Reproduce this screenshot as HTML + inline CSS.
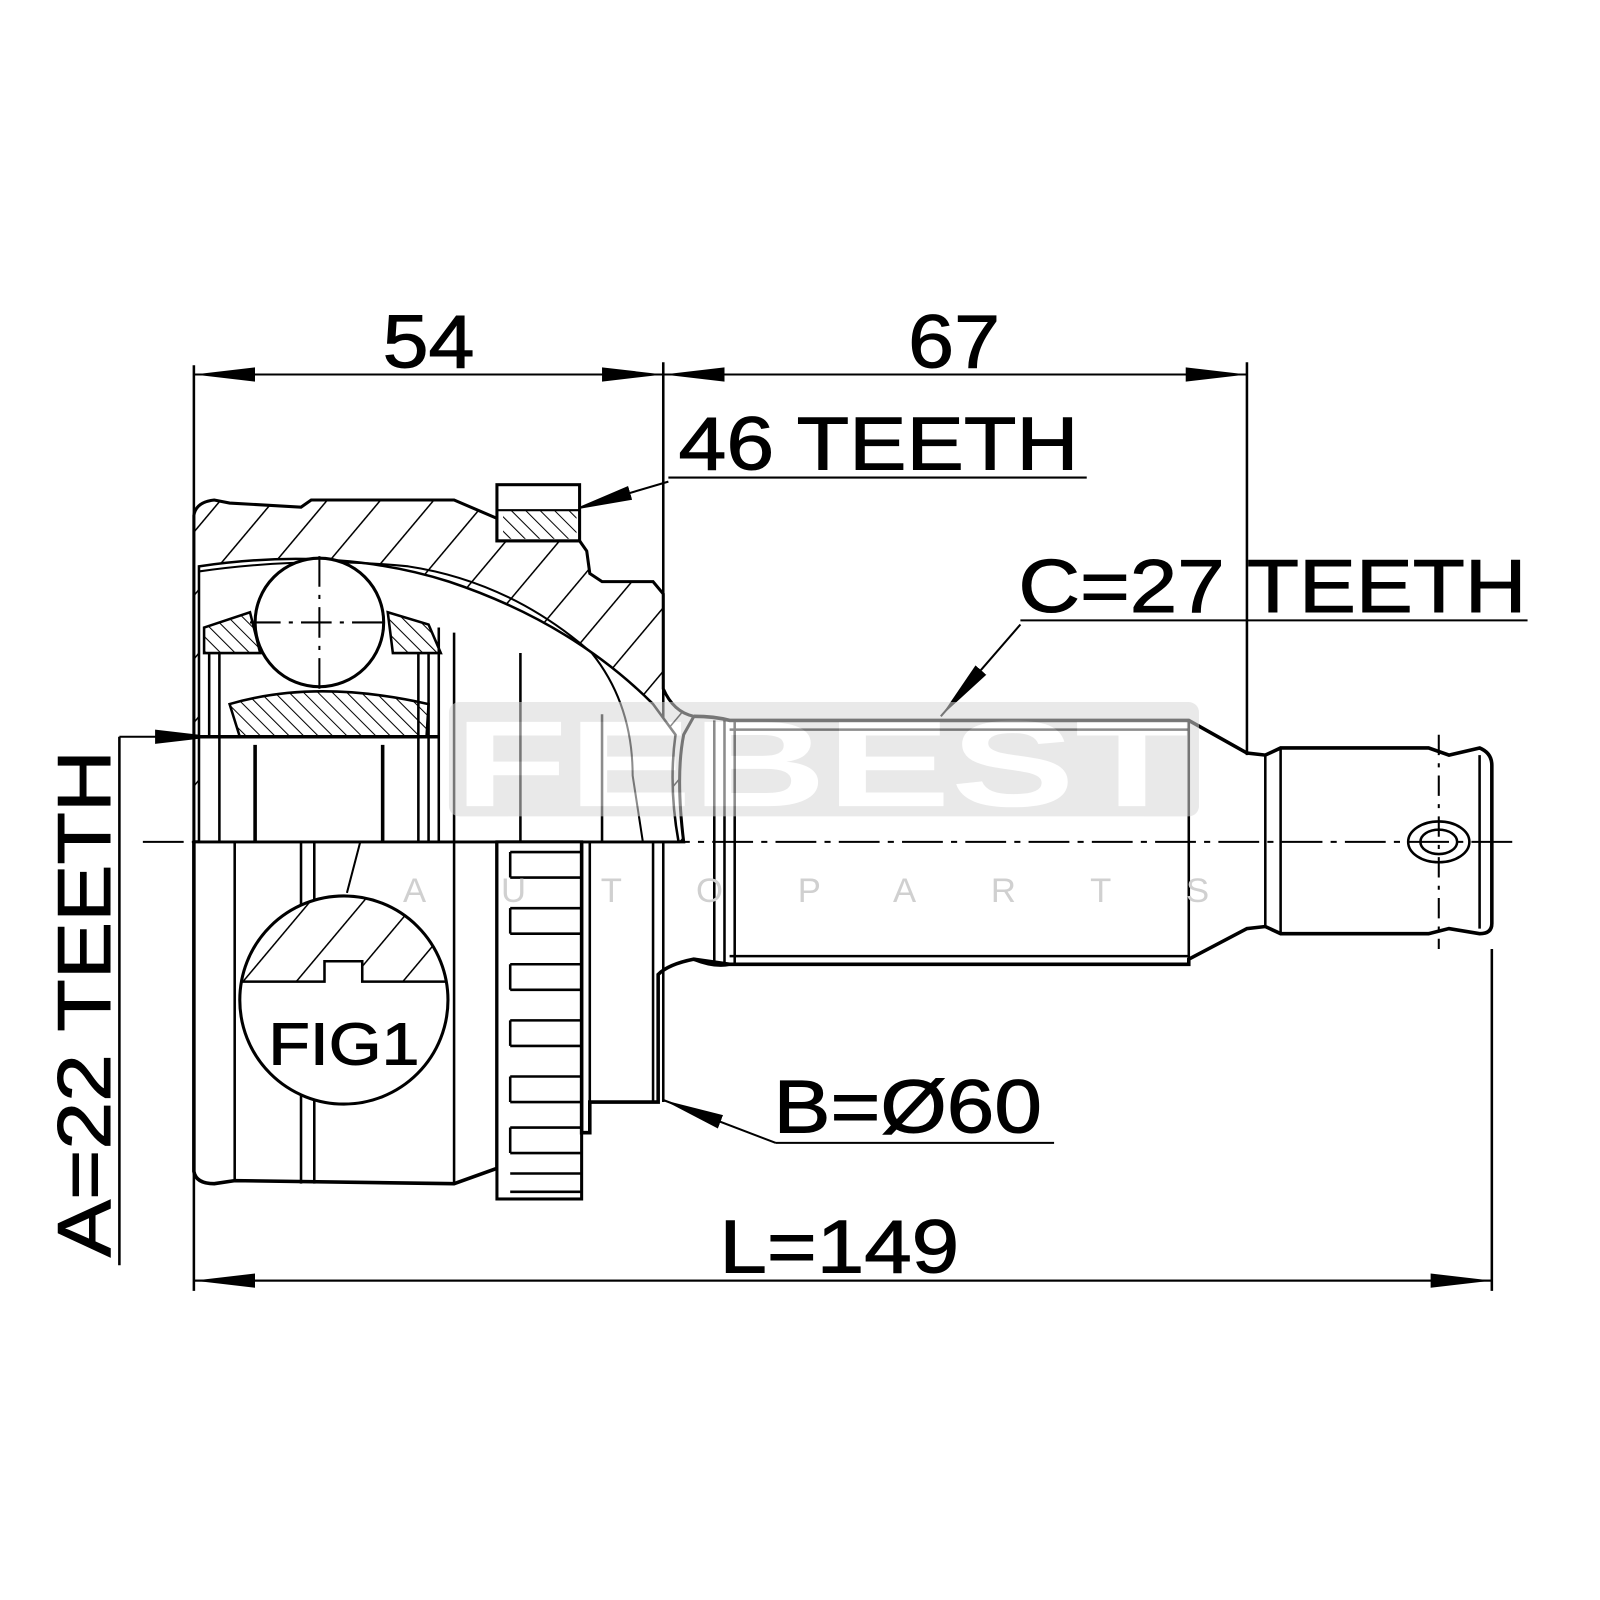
<!DOCTYPE html>
<html><head><meta charset="utf-8"><style>html,body{margin:0;padding:0;background:#fff}svg{display:block}</style></head>
<body>
<svg width="1600" height="1600" viewBox="0 0 1568 1568" xmlns="http://www.w3.org/2000/svg" font-family="Liberation Sans, Arial, sans-serif">
<defs>
<pattern id="h" width="40" height="40" patternUnits="userSpaceOnUse" patternTransform="rotate(40)"><line x1="0" y1="0" x2="0" y2="40" stroke="#000" stroke-width="3"/></pattern>
<pattern id="hf" width="10" height="10" patternUnits="userSpaceOnUse" patternTransform="rotate(-45)"><line x1="0" y1="0" x2="0" y2="10" stroke="#000" stroke-width="2"/></pattern>
<marker id="a" viewBox="0 0 60 20" refX="60" refY="10" markerWidth="60" markerHeight="20" markerUnits="userSpaceOnUse" orient="auto"><path d="M0,3 L60,10 L0,17 Z" fill="#000"/></marker>
</defs>

<g fill="none" stroke="#000" stroke-width="3">
<line x1="190" y1="358" x2="190" y2="1265" stroke-width="2.5"/>
<line x1="650" y1="355" x2="650" y2="1080" stroke-width="2.5"/>
<line x1="1222" y1="355" x2="1222" y2="740" stroke-width="2.5"/>
<line x1="1462" y1="930" x2="1462" y2="1265" stroke-width="2.5"/>
<line x1="117" y1="722" x2="117" y2="1240" stroke-width="2.5"/>
<line x1="190" y1="367" x2="650" y2="367" stroke-width="2" marker-end="url(#a)"/>
<line x1="650" y1="367" x2="190" y2="367" stroke-width="2" marker-end="url(#a)"/>
<line x1="650" y1="367" x2="1222" y2="367" stroke-width="2" marker-end="url(#a)"/>
<line x1="1222" y1="367" x2="650" y2="367" stroke-width="2" marker-end="url(#a)"/>
<line x1="190" y1="1255" x2="1462" y2="1255" stroke-width="2" marker-end="url(#a)"/>
<line x1="1462" y1="1255" x2="190" y2="1255" stroke-width="2" marker-end="url(#a)"/>
<line x1="117" y1="722" x2="212" y2="722" stroke-width="2" marker-end="url(#a)"/>
<line x1="655" y1="468" x2="1065" y2="468" stroke-width="2"/>
<line x1="655" y1="472" x2="560" y2="500" stroke-width="2" marker-end="url(#a)"/>
<line x1="1000" y1="608" x2="1497" y2="608" stroke-width="2"/>
<line x1="1000" y1="612" x2="922" y2="702" stroke-width="2" marker-end="url(#a)"/>
<line x1="760" y1="1120" x2="1033" y2="1120" stroke-width="2"/>
<line x1="760" y1="1120" x2="650" y2="1078" stroke-width="2" marker-end="url(#a)"/>
<line x1="340" y1="875" x2="380" y2="722" stroke-width="2" marker-end="url(#a)"/>

<path d="M190,825 L190,505 Q192,492 210,490 L225,493 L295,497 L305,490 L445,490 L487,508 L487,530 L568,530 L575,540 L578,562 L590,570 L640,570 L650,582 L650,675 Q660,698 680,702 L670,720 Q662,760 670,825 Z" fill="url(#h)"/>
<path d="M195,555 Q330,535 440,570 Q560,610 640,690 L662,720 Q655,770 665,825 L195,825 Z" fill="#fff" stroke="#000" stroke-width="2.5"/>
<path d="M195,560 Q300,545 400,555 Q500,570 580,640 Q620,690 620,760 L630,825" fill="none" stroke-width="2"/>
<path d="M200,615 L245,600 L255,640 L200,640 Z" fill="url(#hf)" stroke-width="2.5"/>
<path d="M380,600 L420,612 L432,640 L385,640 Z" fill="url(#hf)" stroke-width="2.5"/>
<path d="M225,690 Q310,665 420,690 L418,722 L235,722 Z" fill="url(#hf)" stroke-width="2.5"/>
<path d="M205,640 L205,722 M215,640 L215,825 M410,640 L410,825 M420,640 L420,825 M430,615 L430,825 M445,620 L445,825 M510,640 L510,825 M590,700 L590,825" stroke-width="2.5"/>
<path d="M195,722 L430,722 M250,730 L250,825 M375,730 L375,825" stroke-width="3.5"/>
<circle cx="313" cy="610" r="63" fill="#fff"/>
<path d="M313,545 L313,680 M245,610 L380,610" stroke-width="2" stroke-dasharray="30,8,4,8"/>
<rect x="487" y="475" width="81" height="55" fill="#fff"/>
<rect x="493" y="500" width="72" height="28" fill="url(#hf)" stroke="none"/>
<line x1="487" y1="500" x2="568" y2="500" stroke-width="2"/>
<path d="M190,825 L190,1148 Q192,1160 210,1160 L230,1157 L445,1160 L487,1145 L487,825" stroke-width="3.5"/>
<path d="M230,825 L230,1157 M295,825 L295,1160 M308,825 L308,1160 M445,825 L445,1160" stroke-width="2.5"/>
<rect x="487" y="825" width="83" height="350" fill="#fff" stroke-width="3"/>
<g stroke-width="2.5">
<path d="M500,835 H570 M500,860 H570 M500,835 V860"/>
<path d="M500,890 H570 M500,915 H570 M500,890 V915"/>
<path d="M500,945 H570 M500,970 H570 M500,945 V970"/>
<path d="M500,1000 H570 M500,1025 H570 M500,1000 V1025"/>
<path d="M500,1055 H570 M500,1080 H570 M500,1055 V1080"/>
<path d="M500,1105 H570 M500,1130 H570 M500,1105 V1130"/>
<path d="M500,1150 H570 M500,1168 H570"/>
</g>
<path d="M570,825 L570,1110 L578,1110 L578,1080 L645,1080 L645,955 Q655,945 680,940 L715,945" stroke-width="3.5"/>
<path d="M578,825 L578,1080 M640,825 L640,1080" stroke-width="2.5"/>
<circle cx="337" cy="980" r="102" fill="#fff"/>
<clipPath id="c"><circle cx="337" cy="980" r="102"/></clipPath>
<path clip-path="url(#c)" d="M230,962 L318,962 L318,942 L355,942 L355,962 L445,962 L445,870 L230,870 Z" fill="url(#h)" stroke-width="2.5"/>
<path d="M680,702 Q700,702 715,706 L1165,706 L1222,738 L1240,740 L1255,733 L1400,733 L1420,740 L1450,733 Q1462,738 1462,750 L1462,905 Q1462,915 1450,915 L1420,910 L1400,915 L1255,915 L1240,908 L1222,910 L1165,940 L1165,945 L715,945 Q700,948 680,940" stroke-width="3.5"/>
<path d="M715,715 L1165,715 M715,937 L1165,937 M1165,706 L1165,945 M700,706 L700,945 M710,706 L710,945 M720,706 L720,945 M1240,740 L1240,908 M1255,733 L1255,915 M1450,740 L1450,910" stroke-width="2.5"/>
<ellipse cx="1410" cy="825" rx="30" ry="20" stroke-width="2.5"/>
<ellipse cx="1410" cy="825" rx="18" ry="12" stroke-width="2.5"/>
<line x1="1410" y1="720" x2="1410" y2="930" stroke-width="2" stroke-dasharray="20,8,4,8"/>
<line x1="140" y1="825" x2="1490" y2="825" stroke-width="2" stroke-dasharray="40,8,6,8"/>
</g>

<!-- watermark overlay -->
<g opacity="0.55">
<rect x="440" y="688" width="735" height="112" rx="10" fill="#d8d8d8"/>
<text x="445" y="790" font-size="120" font-weight="bold" fill="#fff" textLength="720" lengthAdjust="spacingAndGlyphs">FEBEST</text>
</g>
<text x="395" y="884" font-size="34" fill="#d0d0d0" textLength="790" lengthAdjust="spacing">AUTOPARTS</text>

<g fill="#000" stroke="#000" stroke-width="1">
<text x="375" y="360" font-size="74" textLength="90" lengthAdjust="spacingAndGlyphs">54</text>
<text x="890" y="360" font-size="74" textLength="90" lengthAdjust="spacingAndGlyphs">67</text>
<text x="665" y="460" font-size="74" textLength="392" lengthAdjust="spacingAndGlyphs">46 TEETH</text>
<text x="998" y="600" font-size="74" textLength="498" lengthAdjust="spacingAndGlyphs">C=27 TEETH</text>
<text x="758" y="1110" font-size="74" textLength="263" lengthAdjust="spacingAndGlyphs">B=Ø60</text>
<text x="705" y="1247" font-size="74" textLength="235" lengthAdjust="spacingAndGlyphs">L=149</text>
<text x="263" y="1043" font-size="58" textLength="148" lengthAdjust="spacingAndGlyphs">FIG1</text>
<text transform="translate(108,1232) rotate(-90)" font-size="74" textLength="497" lengthAdjust="spacingAndGlyphs">A=22 TEETH</text>
</g>
</svg>
</body></html>
